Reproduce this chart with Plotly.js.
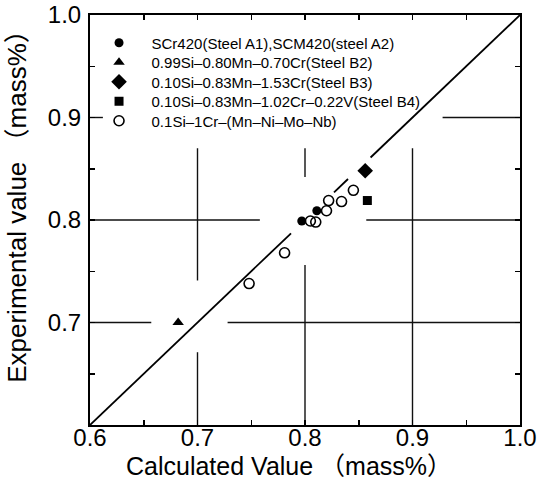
<!DOCTYPE html>
<html>
<head>
<meta charset="utf-8">
<script src="https://cdn.plot.ly/plotly-3.0.1.min.js"></script>
<style>
  html, body { margin: 0; padding: 0; background: #fff; }
  #chart { width: 539px; height: 486px; }
</style>
</head>
<body>
<div id="chart"></div>
<script>
// ---- Data ----
const seriesNames = [
  "SCr420(Steel A1),SCM420(steel A2)",
  "0.99Si\u20130.80Mn\u20130.70Cr(Steel B2)",
  "0.10Si\u20130.83Mn\u20131.53Cr(Steel B3)",
  "0.10Si\u20130.83Mn\u20131.02Cr\u20130.22V(Steel B4)",
  "0.1Si\u20131Cr\u2013(Mn\u2013Ni\u2013Mo\u2013Nb)"
];
const steelA_calc = [0.797, 0.811];
const steelA_exp  = [0.799, 0.809];
const steelB2_calc = [0.682];
const steelB2_exp  = [0.700];
const steelB3_calc = [0.856];
const steelB3_exp  = [0.848];
const steelB4_calc = [0.858];
const steelB4_exp  = [0.819];
const siCr_calc = [0.748, 0.781, 0.805, 0.810, 0.820, 0.822, 0.834, 0.845];
const siCr_exp  = [0.738, 0.768, 0.799, 0.798, 0.809, 0.819, 0.818, 0.829];
// y = x reference line (drawn with gaps around the points, as in the reference)
const diagX = [0.6, 0.787, null, 0.827, 0.840, null, 0.861, 1.0];
const xTickVals = [0.6, 0.7, 0.8, 0.9, 1.0];
const yTickVals = [0.7, 0.8, 0.9, 1.0];
const xTitle = "Calculated Value \uFF08mass%\uFF09";
const yTitle = "Experimental value \uFF08mass%\uFF09";

// ---- Broken grid lines (decoration, as in the reference) ----
const gridV = [ // [x, yStart, yEnd]
  [0.7, 0.6, 0.671], [0.7, 0.741, 0.870],
  [0.8, 0.6, 0.756], [0.8, 0.842, 0.870],
  [0.9, 0.6, 0.870]
];
const gridH = [ // [y, xStart, xEnd]
  [0.7, 0.6, 0.657], [0.7, 0.728, 1.0],
  [0.8, 0.6, 0.758], [0.8, 0.857, 1.0],
  [0.9, 0.6, 0.612], [0.9, 0.928, 1.0]
];
const gx = [], gy = [];
gridV.forEach(s => { gx.push(s[0], s[0], null); gy.push(s[1], s[2], null); });
gridH.forEach(s => { gx.push(s[1], s[2], null); gy.push(s[0], s[0], null); });

const FONT = "Liberation Sans, Arial, Helvetica, 'Noto Sans CJK JP', sans-serif";
const pad = "\u00a0\u00a0\u00a0";
const legendIds = ["legend", "legend2", "legend3", "legend4", "legend5"];
const legendRowY = [0.9317, 0.8841, 0.8366, 0.7890, 0.7415];

const traces = [
  { x: gx, y: gy, mode: "lines", line: {color: "#111", width: 1.4},
    showlegend: false, hoverinfo: "skip", connectgaps: false },
  { x: diagX, y: diagX, mode: "lines", line: {color: "#000", width: 1.8},
    showlegend: false, hoverinfo: "skip", connectgaps: false },
  { x: steelA_calc, y: steelA_exp, mode: "markers", name: pad + seriesNames[0], legend: legendIds[0],
    marker: {symbol: "circle", size: 9, color: "#000"} },
  { x: steelB2_calc, y: steelB2_exp, mode: "markers", name: pad + seriesNames[1], legend: legendIds[1],
    marker: {symbol: "triangle-up", size: 10, color: "#000"} },
  { x: steelB3_calc, y: steelB3_exp, mode: "markers", name: pad + seriesNames[2], legend: legendIds[2],
    marker: {symbol: "diamond", size: 12, color: "#000"} },
  { x: steelB4_calc, y: steelB4_exp, mode: "markers", name: pad + seriesNames[3], legend: legendIds[3],
    marker: {symbol: "square", size: 9, color: "#000"} },
  { x: siCr_calc, y: siCr_exp, mode: "markers", name: pad + seriesNames[4], legend: legendIds[4],
    marker: {symbol: "circle-open", size: 10, color: "#000", line: {width: 1.6, color: "#000"}} }
];

const axisCommon = {
  range: [0.6, 1.0],
  showgrid: false, zeroline: false,
  showline: true, linecolor: "#000", linewidth: 2, mirror: "allticks",
  ticks: "inside", ticklen: 5, tickwidth: 1.5, tickcolor: "#000",
  minor: {dtick: 0.05, ticks: "inside", ticklen: 5, tickwidth: 1.5, tickcolor: "#000", showgrid: false},
  tickfont: {family: FONT, size: 24, color: "#000"},
  tickformat: ".1f", tickmode: "array"
};

const layout = {
  width: 539, height: 486,
  margin: {l: 90, r: 19, t: 15, b: 61},
  paper_bgcolor: "#fff", plot_bgcolor: "#fff",
  font: {family: FONT, color: "#000"},
  xaxis: Object.assign({}, axisCommon, {tickvals: xTickVals, ticklabelstandoff: -10}),
  yaxis: Object.assign({}, axisCommon, {tickvals: yTickVals, ticklabelstandoff: 2}),
  showlegend: true,
  annotations: [
    { text: xTitle, xref: "paper", yref: "paper", x: 0.463, y: -0.1,
      xanchor: "center", yanchor: "middle", showarrow: false,
      font: {family: FONT, size: 25, color: "#000"} },
    { text: yTitle, xref: "paper", yref: "paper", x: -0.170, y: 0.549,
      xanchor: "center", yanchor: "middle", textangle: -90, showarrow: false,
      font: {family: FONT, size: 26, color: "#000"} }
  ]
};
legendIds.forEach((id, i) => {
  layout[id] = {
    x: 0.021, y: legendRowY[i], xanchor: "left", yanchor: "middle",
    bgcolor: "rgba(0,0,0,0)", borderwidth: 0,
    font: {family: FONT, size: 15, color: "#000"},
    itemwidth: 30
  };
});

Plotly.newPlot("chart", traces, layout, {staticPlot: true, displayModeBar: false});
</script>
</body>
</html>
